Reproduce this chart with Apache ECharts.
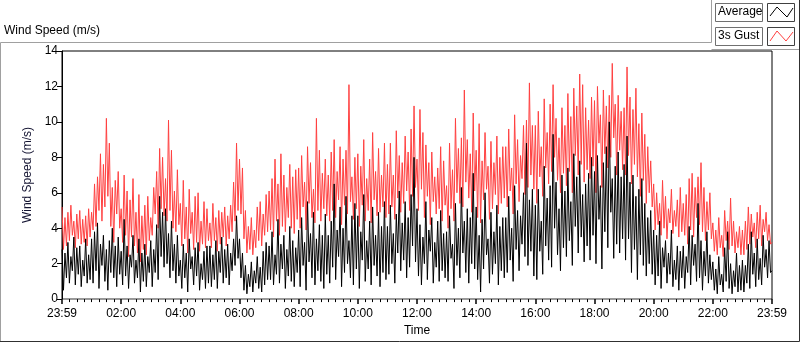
<!DOCTYPE html>
<html>
<head>
<meta charset="utf-8">
<script src="https://cdn.jsdelivr.net/npm/echarts@6/dist/echarts.min.js"></script>
<style>
    html, body { margin: 0; padding: 0; background: #fff; }
    #chart { width: 800px; height: 342px; }
</style>
</head>
<body>
<div id="chart"></div>
<script>
// one reading every 3 minutes, 23:59 -> 23:59 (one row per hour)
let stepMin = 3
let timeLabels = ['23:59', '02:00', '04:00', '06:00', '08:00', '10:00', '12:00',
    '14:00', '16:00', '18:00', '20:00', '22:00', '23:59']

let avgSpeed = [
    2.8, 0.5, 2.6, 1.2, 3.2, 0.9, 2.4, 1.6, 3.5, 0.8, 2.9, 1.4, 3.0, 0.7, 2.2, 1.3, 3.4, 0.9, 2.5, 1.1,
    3.4, 0.9, 3.8, 1.6, 4.3, 0.6, 3.1, 1.9, 3.6, 1.0, 2.8, 0.5, 3.3, 1.5, 4.0, 1.2, 3.0, 0.7, 3.5, 1.4,
    2.7, 0.8, 4.5, 1.3, 3.0, 0.6, 2.5, 1.8, 3.6, 0.9, 2.2, 1.2, 3.4, 0.4, 2.6, 1.0, 3.1, 0.7, 2.4, 1.5,
    3.3, 0.7, 2.8, 1.5, 4.2, 1.1, 5.8, 2.4, 4.9, 1.8, 5.1, 2.0, 3.7, 1.2, 4.4, 1.6, 3.1, 0.9, 3.6, 1.3,
    2.2, 0.6, 3.1, 1.2, 2.6, 0.4, 3.4, 1.7, 2.4, 0.8, 2.9, 1.3, 3.2, 0.5, 2.0, 1.1, 2.7, 0.6, 3.0, 0.9,
    3.0, 0.7, 2.5, 1.1, 3.3, 0.6, 2.7, 1.5, 3.5, 0.9, 2.8, 1.2, 3.1, 0.8, 2.6, 1.6, 3.4, 1.9, 4.7, 2.3,
    3.4, 1.2, 2.6, 0.5, 1.9, 0.3, 1.4, 0.7, 2.1, 0.4, 1.6, 0.9, 2.4, 0.6, 1.8, 0.4, 2.7, 0.8, 3.2, 1.1,
    3.0, 1.1, 3.8, 0.8, 2.5, 1.4, 4.5, 0.9, 3.1, 1.7, 3.6, 0.6, 2.8, 1.3, 4.1, 1.0, 3.3, 0.7, 2.9, 1.5,
    3.9, 0.7, 4.6, 1.9, 3.2, 0.5, 5.5, 2.1, 3.7, 1.2, 4.9, 0.8, 3.4, 1.6, 4.2, 1.0, 3.6, 0.6, 4.8, 1.4,
    3.6, 0.9, 4.4, 1.8, 6.5, 1.1, 3.9, 2.4, 5.2, 0.7, 4.0, 1.5, 5.8, 2.0, 3.3, 1.2, 4.7, 0.8, 5.4, 1.7,
    4.7, 0.6, 3.8, 2.2, 5.9, 1.0, 3.3, 1.7, 4.4, 0.8, 5.2, 1.9, 3.6, 1.3, 4.9, 0.7, 4.1, 1.5, 5.5, 1.1,
    4.1, 1.4, 5.3, 2.0, 3.7, 0.9, 4.8, 2.6, 6.1, 1.6, 4.3, 2.2, 5.5, 1.2, 4.6, 1.8, 5.9, 3.0, 8.0, 2.1,
    5.1, 1.3, 4.2, 0.8, 3.5, 2.0, 5.5, 1.1, 3.9, 2.7, 4.6, 0.9, 3.2, 1.8, 4.4, 1.0, 5.0, 1.6, 3.7, 1.2,
    3.8, 1.0, 4.7, 2.3, 3.1, 0.6, 5.4, 1.9, 4.0, 1.2, 6.3, 2.6, 4.4, 1.5, 5.1, 0.9, 4.6, 2.0, 7.1, 1.7,
    5.2, 1.1, 3.6, 0.4, 4.5, 1.7, 6.0, 2.5, 3.4, 0.9, 4.9, 1.4, 3.8, 2.0, 5.3, 0.8, 4.1, 1.6, 4.6, 1.2,
    4.6, 1.5, 5.8, 2.2, 4.0, 1.0, 6.4, 2.8, 5.0, 1.6, 4.7, 3.1, 6.0, 2.4, 8.8, 1.9, 5.6, 2.7, 6.2, 1.3,
    5.3, 1.1, 6.2, 2.7, 4.4, 1.4, 7.5, 3.0, 5.7, 2.2, 6.4, 1.8, 9.3, 4.0, 6.6, 2.5, 5.1, 1.6, 7.0, 2.9,
    6.1, 2.4, 7.4, 3.3, 5.5, 1.9, 8.2, 4.1, 6.9, 2.6, 7.8, 3.5, 5.9, 2.1, 6.5, 3.0, 7.1, 2.2, 8.0, 3.6,
    7.2, 2.0, 8.1, 4.5, 6.4, 1.7, 7.7, 3.8, 8.6, 2.9, 10.0, 4.9, 6.8, 2.3, 7.5, 3.1, 8.3, 2.6, 6.9, 3.4,
    7.6, 2.2, 9.2, 3.4, 6.6, 1.5, 7.0, 2.8, 5.8, 1.1, 6.2, 2.5, 6.8, 1.9, 5.4, 1.3, 4.6, 2.0, 5.0, 1.4,
    3.9, 0.8, 3.6, 1.3, 4.4, 0.6, 2.9, 1.8, 3.3, 0.9, 2.6, 1.4, 3.9, 0.7, 2.2, 1.1, 3.0, 0.5, 2.7, 1.2,
    3.0, 0.6, 2.4, 1.5, 4.1, 0.8, 3.6, 1.9, 3.1, 1.0, 5.4, 1.2, 3.3, 0.5, 2.7, 1.3, 3.8, 0.9, 2.5, 1.1,
    2.1, 0.5, 1.7, 0.3, 2.4, 0.8, 1.4, 0.4, 2.9, 1.0, 3.8, 0.6, 2.0, 0.3, 1.6, 0.7, 2.6, 0.4, 1.9, 0.5,
    2.2, 0.4, 1.9, 0.9, 3.1, 0.6, 3.8, 1.4, 2.6, 0.7, 3.4, 1.1, 2.3, 0.8, 3.6, 1.8, 2.8, 1.2, 3.3, 1.5,
    1.6
]

let gustSpeed = [
    5.2, 2.8, 4.6, 3.0, 4.9, 3.3, 5.3, 3.6, 4.4, 2.9, 4.8, 3.4, 5.0, 3.1, 4.5, 3.2, 4.7, 3.0, 5.1, 3.5,
    4.9, 3.9, 6.5, 4.1, 6.9, 5.0, 8.2, 4.4, 7.6, 5.2, 10.2, 5.8, 8.8, 4.1, 6.3, 3.2, 6.7, 4.8, 7.2, 4.0,
    5.1, 3.2, 7.0, 3.6, 6.1, 2.4, 5.6, 3.5, 6.8, 3.0, 4.9, 2.6, 5.9, 2.1, 4.7, 2.8, 5.3, 2.5, 5.8, 3.3,
    4.6, 3.6, 6.3, 4.8, 7.2, 4.0, 8.5, 5.1, 8.0, 4.7, 6.8, 4.4, 10.1, 5.0, 8.4, 4.0, 6.1, 3.8, 7.3, 4.2,
    5.4, 3.0, 6.7, 3.4, 5.2, 2.6, 6.2, 3.7, 4.9, 2.8, 5.8, 3.2, 6.0, 2.7, 4.4, 3.1, 5.5, 2.9, 5.1, 3.3,
    4.3, 2.9, 5.4, 3.3, 4.6, 2.7, 5.0, 3.1, 4.9, 3.5, 5.2, 3.0, 4.7, 3.4, 5.3, 3.8, 6.6, 4.4, 8.8, 5.0,
    7.9, 4.8, 7.4, 3.4, 5.0, 2.6, 4.1, 2.8, 4.6, 2.5, 3.9, 2.9, 5.2, 3.3, 5.5, 3.0, 4.8, 3.6, 5.9, 3.8,
    6.1, 3.9, 6.8, 3.5, 7.9, 4.4, 6.5, 3.6, 8.2, 4.1, 7.0, 3.8, 6.3, 4.6, 7.6, 4.0, 6.9, 3.7, 7.3, 4.5,
    7.4, 4.0, 8.1, 5.2, 6.6, 3.9, 8.6, 5.4, 7.7, 4.6, 6.2, 4.3, 10.2, 5.0, 8.4, 4.4, 7.1, 5.1, 7.9, 4.7,
    7.0, 4.4, 8.3, 5.0, 9.0, 4.6, 7.2, 5.6, 8.6, 4.2, 7.9, 5.3, 8.4, 4.8, 12.1, 5.5, 6.9, 4.5, 8.0, 5.1,
    8.2, 4.1, 7.5, 5.3, 9.0, 4.4, 6.8, 5.0, 7.9, 4.3, 9.4, 5.6, 7.2, 4.7, 8.5, 4.9, 7.0, 5.2, 8.8, 4.6,
    7.6, 4.8, 8.8, 5.2, 7.0, 4.5, 9.5, 5.7, 8.1, 4.9, 7.7, 5.4, 9.2, 6.1, 8.3, 5.0, 9.6, 5.8, 10.9, 6.3,
    7.9, 5.0, 10.7, 6.2, 9.4, 4.6, 8.7, 5.8, 7.7, 4.2, 8.3, 5.5, 6.9, 4.8, 7.4, 5.1, 8.6, 4.4, 7.8, 5.3,
    6.4, 4.0, 8.8, 5.1, 7.3, 4.4, 10.2, 6.0, 8.5, 5.4, 9.1, 5.2, 11.8, 6.6, 9.0, 5.7, 8.2, 4.9, 10.5, 6.1,
    8.4, 4.6, 9.9, 4.3, 7.8, 5.6, 9.4, 6.2, 7.5, 4.5, 8.9, 5.1, 7.7, 5.9, 9.2, 4.8, 8.0, 5.4, 8.6, 5.7,
    8.6, 5.2, 9.6, 6.1, 7.4, 4.8, 10.4, 6.5, 9.0, 5.5, 8.1, 6.8, 9.8, 5.9, 10.1, 6.3, 12.2, 7.0, 9.8, 6.2,
    9.8, 5.4, 10.6, 6.9, 8.6, 5.8, 11.3, 7.4, 9.4, 6.5, 11.0, 7.2, 12.1, 8.0, 10.2, 6.7, 9.1, 6.0, 10.8, 7.1,
    9.8, 6.4, 11.6, 7.2, 10.3, 6.0, 11.9, 8.1, 10.9, 7.0, 12.7, 7.6, 12.1, 6.6, 10.8, 7.3, 10.1, 6.8, 11.4, 7.5,
    11.2, 6.0, 12.0, 8.8, 10.4, 6.3, 11.8, 8.2, 10.9, 7.4, 11.5, 8.0, 13.3, 9.1, 11.0, 7.0, 11.5, 8.4, 10.6, 7.3,
    10.8, 7.0, 13.1, 8.1, 11.4, 6.5, 10.7, 7.6, 11.9, 6.9, 9.9, 5.8, 10.5, 6.7, 9.3, 5.4, 8.6, 6.0, 7.8, 5.2,
    6.5, 3.9, 6.0, 4.2, 5.4, 3.6, 6.7, 4.0, 5.8, 3.4, 5.1, 4.3, 6.2, 3.7, 5.0, 4.1, 5.6, 3.5, 6.3, 3.8,
    5.4, 3.6, 5.9, 3.1, 6.8, 3.9, 7.1, 3.5, 6.3, 4.6, 6.9, 4.2, 7.7, 3.8, 6.3, 3.3, 5.5, 3.9, 6.0, 3.4,
    4.3, 2.7, 3.9, 2.5, 4.6, 2.9, 3.6, 2.4, 5.0, 3.3, 4.4, 2.8, 5.7, 3.0, 4.4, 2.6, 3.8, 2.9, 4.1, 2.5,
    3.9, 2.5, 4.4, 2.8, 5.2, 3.1, 4.8, 3.5, 4.3, 2.9, 4.9, 3.4, 5.3, 3.0, 4.5, 3.8, 4.9, 3.3, 4.2, 3.1,
    3.2
]

let avgData = avgSpeed.map((v, i) => [i * stepMin, v])
let gustData = gustSpeed.map((v, i) => [i * stepMin, v])

let myChart = echarts.init(document.getElementById('chart'))
let option = {
    animation: false,
    textStyle: {
        fontFamily: 'Liberation Sans'
    },
    title: {
        text: 'Wind Speed (m/s)',
        left: 1,
        top: 25,
        padding: [0, 3],
        textStyle: {
            fontSize: 12,
            fontWeight: 'normal',
            color: '#000'
        }
    },
    grid: {
        left: 62,
        top: 51,
        right: 28,
        bottom: 40,
        show: true,
        borderColor: '#000',
        borderWidth: 1
    },
    xAxis: {
        type: 'value',
        min: 0,
        max: 1440,
        interval: 120,
        name: 'Time',
        nameLocation: 'middle',
        nameGap: 25,
        nameTextStyle: {
            fontSize: 12,
            color: '#000'
        },
        axisLine: {
            lineStyle: { color: '#9a9a9a' }
        },
        axisTick: {
            length: 5,
            lineStyle: { color: '#000', width: 1.5 }
        },
        minorTick: {
            show: true,
            splitNumber: 8,
            length: 3,
            lineStyle: { color: '#000' }
        },
        axisLabel: {
            fontSize: 12,
            color: '#000',
            margin: 9,
            showMinLabel: true,
            showMaxLabel: true,
            formatter: v => timeLabels[Math.round(v / 120)]
        },
        splitLine: { show: false }
    },
    yAxis: {
        type: 'value',
        min: 0,
        max: 14,
        interval: 2,
        name: 'Wind Speed (m/s)',
        nameLocation: 'middle',
        nameGap: 19,
        nameTextStyle: {
            fontSize: 12,
            color: '#141432'
        },
        axisLine: {
            show: true,
            lineStyle: { color: '#000' }
        },
        axisTick: {
            show: true,
            length: 5,
            lineStyle: { color: '#000' }
        },
        axisLabel: {
            fontSize: 12,
            color: '#000',
            margin: 4
        },
        splitLine: { show: false }
    },
    graphic: [
        {
            type: 'polyline',
            shape: { points: [[0.5, 342], [0.5, 42.5], [711.5, 42.5], [711.5, 0]] },
            style: { stroke: '#a0a0a0', fill: null, lineWidth: 1 }
        },
        {
            type: 'polyline',
            shape: { points: [[711.5, 49.5], [800, 49.5]] },
            style: { stroke: '#a0a0a0', fill: null, lineWidth: 1 }
        },
        {
            type: 'polyline',
            shape: { points: [[799.5, 0], [799.5, 341.5], [0, 341.5]] },
            style: { stroke: '#303030', fill: null, lineWidth: 1 }
        },
        {
            type: 'rect',
            shape: { x: 715.5, y: 3.5, width: 47, height: 18 },
            style: { fill: '#fff', stroke: '#707070' }
        },
        {
            type: 'rect',
            shape: { x: 715.5, y: 27.5, width: 47, height: 18 },
            style: { fill: '#fff', stroke: '#707070' }
        },
        {
            type: 'rect',
            shape: { x: 767.5, y: 3.5, width: 27, height: 18 },
            style: { fill: '#fff', stroke: '#404040' }
        },
        {
            type: 'rect',
            shape: { x: 767.5, y: 27.5, width: 27, height: 18 },
            style: { fill: '#fff', stroke: '#404040' }
        },
        {
            type: 'text',
            left: 718,
            top: 6,
            style: { text: 'Average', fontSize: 12, fontFamily: 'Liberation Sans', fill: '#000' }
        },
        {
            type: 'text',
            left: 718,
            top: 30,
            style: { text: '3s Gust', fontSize: 12, fontFamily: 'Liberation Sans', fill: '#000' }
        },
        {
            type: 'polyline',
            shape: { points: [[770, 16], [777, 7], [787, 17], [793, 8]] },
            style: { stroke: '#000', fill: null, lineWidth: 1 }
        },
        {
            type: 'polyline',
            shape: { points: [[770, 41], [777, 31], [786, 41], [793, 32]] },
            style: { stroke: '#ff4040', fill: null, lineWidth: 1 }
        }
    ],
    series: [
        {
            name: '3s Gust',
            type: 'line',
            data: gustData,
            showSymbol: false,
            lineStyle: { color: '#ff4040', width: 1 },
            itemStyle: { color: '#ff4040' }
        },
        {
            name: 'Average',
            type: 'line',
            data: avgData,
            showSymbol: false,
            lineStyle: { color: '#000', width: 1 },
            itemStyle: { color: '#000' }
        }
    ]
}
myChart.setOption(option)
</script>
</body>
</html>
